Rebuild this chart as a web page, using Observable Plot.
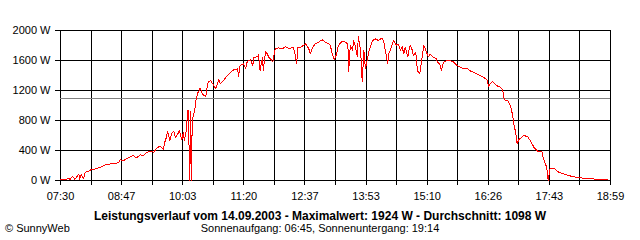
<!DOCTYPE html>
<html><head><meta charset="utf-8">
<script src="https://cdn.jsdelivr.net/npm/d3@7"></script>
<script src="https://cdn.jsdelivr.net/npm/@observablehq/plot@0.6"></script>
<style>
body{margin:0;background:#fff;}
#wrap{position:relative;width:640px;height:240px;font-family:Arial,"Liberation Sans",sans-serif;color:#000;overflow:hidden;}
#chart{position:absolute;left:0;top:0;}
#title{position:absolute;left:0;width:640px;top:209px;text-align:center;font-weight:bold;font-size:12px;line-height:14px;white-space:nowrap;}
#sub{position:absolute;left:0;width:640px;top:222px;text-align:center;font-size:11px;line-height:13px;white-space:nowrap;}
#copy{position:absolute;left:5px;top:222px;font-size:11px;line-height:13px;white-space:nowrap;}
</style></head>
<body><div id="wrap"><div id="chart"></div><div id="title"></div><div id="sub"></div><div id="copy"></div></div>
<script>
const times = ["07:30","07:38","07:39","07:42","07:45","07:48","07:50","07:53","07:54","07:56","07:59","08:00","08:01","08:05","08:08","08:14","08:20","08:26","08:33","08:39","08:43","08:45","08:49","08:54","08:58","09:01","09:05","09:10","09:14","09:18","09:23","09:27","09:30","09:34","09:37","09:39","09:40","09:43","09:44","09:47","09:49","09:52","09:54","09:57","09:59","10:02","10:04","10:05","10:08","10:09","10:10","10:12","10:13","10:14","10:15","10:18","10:20","10:22","10:24","10:25","10:28","10:32","10:34","10:35","10:38","10:42","10:44","10:47","10:48","10:50","10:54","10:59","11:03","11:07","11:12","11:13","11:15","11:19","11:22","11:24","11:28","11:31","11:32","11:37","11:38","11:40","11:43","11:44","11:47","11:49","11:51","11:53","11:56","11:57","11:59","12:03","12:08","12:12","12:16","12:21","12:23","12:26","12:27","12:31","12:34","12:37","12:41","12:43","12:46","12:49","12:53","12:58","13:02","13:06","13:08","13:11","13:13","13:16","13:18","13:23","13:27","13:30","13:31","13:33","13:36","13:37","13:39","13:42","13:43","13:46","13:48","13:50","13:52","13:55","13:56","13:58","14:01","14:05","14:08","14:13","14:15","14:17","14:20","14:21","14:23","14:26","14:27","14:31","14:33","14:36","14:38","14:40","14:42","14:45","14:46","14:48","14:51","14:52","14:55","14:56","14:57","15:00","15:01","15:03","15:05","15:07","15:10","15:11","15:13","15:17","15:21","15:22","15:25","15:27","15:30","15:32","15:36","15:41","15:44","15:47","15:51","15:55","16:00","16:04","16:10","16:16","16:20","16:25","16:26","16:29","16:31","16:36","16:41","16:44","16:46","16:51","16:54","16:56","16:59","17:00","17:02","17:04","17:09","17:10","17:15","17:19","17:23","17:28","17:33","17:35","17:39","17:41","17:43","17:49","17:54","18:03","18:11","18:21","18:34","18:55"];
const watts = [13,13,36,13,58,13,44,89,13,80,22,67,111,120,142,156,178,209,222,222,244,276,267,298,320,333,302,342,333,378,387,378,422,458,436,409,489,587,658,533,622,658,569,622,667,542,644,533,689,933,933,0,930,0,800,933,1089,1169,1200,1236,1150,1120,1267,1311,1333,1267,1222,1289,1356,1289,1333,1400,1444,1476,1489,1378,1533,1556,1489,1591,1609,1533,1636,1653,1680,1467,1644,1467,1724,1689,1644,1622,1578,1644,1756,1769,1756,1787,1756,1778,1733,1556,1778,1778,1800,1822,1756,1689,1778,1822,1844,1876,1844,1822,1800,1667,1609,1689,1800,1858,1844,1822,1444,1800,1733,1867,1800,1644,1924,1733,1311,1733,1489,1644,1711,1778,1867,1889,1867,1902,1844,1733,1556,1689,1733,1822,1876,1800,1822,1733,1787,1689,1778,1644,1711,1800,1733,1667,1711,1622,1467,1422,1489,1644,1800,1756,1667,1644,1689,1644,1622,1578,1556,1467,1578,1591,1600,1591,1564,1533,1511,1489,1489,1458,1431,1400,1378,1333,1253,1298,1320,1267,1244,1209,1076,1058,978,889,689,667,489,542,587,600,587,524,444,391,391,289,178,0,156,156,111,80,53,36,22,13];
const xTickLabels = ["07:30","08:47","10:03","11:20","12:37","13:53","15:10","16:26","17:43","18:59"];
const yTicks = [0,400,800,1200,1600,2000];
const averageW = 1098;
const maxW = 1924;
const dateText = "14.09.2003";
const sunrise = "06:45";
const sunset = "19:14";

const toMin = s => { const [h, m] = s.split(":").map(Number); return h * 60 + m; };
const data = times.map((t, i) => ({t: toMin(t), w: watts[i]}));
const t0 = toMin(xTickLabels[0]), t1 = toMin(xTickLabels[xTickLabels.length - 1]);
const nIntervals = (xTickLabels.length - 1) * 2;
const xTicks = d3.range(nIntervals + 1).map(i => t0 + i * (t1 - t0) / nIntervals);
const labelOf = new Map(xTicks.map((t, i) => [t, i % 2 ? "" : xTickLabels[i / 2]]));

const chart = Plot.plot({
  width: 640,
  height: 205,
  marginLeft: 60,
  marginRight: 30,
  marginTop: 30,
  marginBottom: 25,
  style: {fontFamily: 'Arial, "Liberation Sans", sans-serif', fontSize: "11px", color: "#000", background: "#fff"},
  x: {domain: [t0, t1], label: null},
  y: {domain: [0, 2000], label: null},
  marks: [
    Plot.gridX(xTicks, {stroke: "#000", strokeOpacity: 1, shapeRendering: "crispEdges"}),
    Plot.gridY(yTicks, {stroke: "#000", strokeOpacity: 1, shapeRendering: "crispEdges"}),
    Plot.axisX(xTicks, {tickSize: 5, tickPadding: 7, tickFormat: d => labelOf.get(d), stroke: "#000", fill: "#000", shapeRendering: "crispEdges"}),
    Plot.axisY(yTicks, {tickSize: 5, tickPadding: 5, tickFormat: d => `${d} W`, stroke: "#000", fill: "#000", shapeRendering: "crispEdges"}),
    Plot.ruleY([averageW], {stroke: "#808080", strokeWidth: 1, shapeRendering: "crispEdges"}),
    Plot.line(data, {x: "t", y: "w", stroke: "#ff0000", strokeWidth: 1, strokeLinejoin: "miter", shapeRendering: "crispEdges"})
  ]
});
document.getElementById("chart").appendChild(chart);
document.getElementById("title").textContent = `Leistungsverlauf vom ${dateText} - Maximalwert: ${maxW} W - Durchschnitt: ${averageW} W`;
document.getElementById("sub").textContent = `Sonnenaufgang: ${sunrise}, Sonnenuntergang: ${sunset}`;
document.getElementById("copy").textContent = "© SunnyWeb";
</script>
</body></html>
